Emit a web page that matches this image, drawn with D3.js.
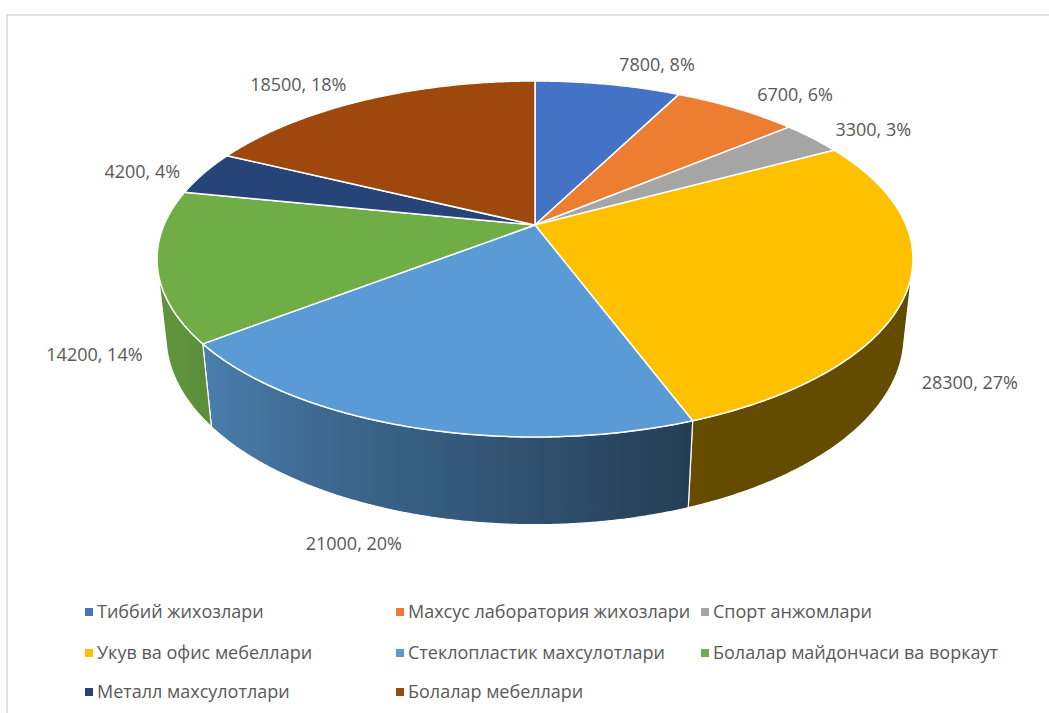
<!DOCTYPE html>
<html>
<head>
<meta charset="utf-8">
<script src="https://cdn.jsdelivr.net/npm/d3@7"></script>
<style>
  html, body { margin: 0; padding: 0; background: #ffffff; }
  svg { display: block; }
  text { font-family: "Open Sans", "Noto Sans", sans-serif; }
</style>
</head>
<body>
<svg id="chart" width="1049" height="713"></svg>
<script>
// ---- data ----
const categories = [
  "Тиббий жихозлари",
  "Махсус лаборатория жихозлари",
  "Спорт анжомлари",
  "Укув ва офис мебеллари",
  "Стеклопластик махсулотлари",
  "Болалар майдончаси ва воркаут",
  "Металл махсулотлари",
  "Болалар мебеллари"
];
const values = [7800, 6700, 3300, 28300, 21000, 14200, 4200, 18500];
const colors = ["#4472C4", "#ED7D31", "#A5A5A5", "#FFC000", "#5B9BD5", "#70AD47", "#264478", "#9E480E"];

// ---- geometry of the 3D pie ----
const W = 1049, H = 713;
const cx = 535, cy = 225;     // projected centre of the top face
const R = 371;                // disc radius
const thick = 88;             // disc thickness
const sinT = 0.4623, cosT = Math.sqrt(1 - sinT * sinT);
const focal = 1723;           // perspective distance

const svg = d3.select("#chart");
svg.append("rect").attr("width", W).attr("height", H).attr("fill", "#fff");
svg.append("rect")
  .attr("x", 7).attr("y", 15).attr("width", 1200).attr("height", 900)
  .attr("fill", "none").attr("stroke", "#d9d9d9").attr("stroke-width", 1.5);

const total = d3.sum(values);
const pie = d3.pie().sort(null).value(d => d)(values);   // angles in radians, 0 = 12 o'clock, clockwise

// project disc point (angle a in radians from the back, radius r, height y)
function proj(a, r, y) {
  const X = r * Math.sin(a);
  const Z = -r * Math.cos(a);
  const y0 = Z * sinT - y * cosT;
  const d = Z * cosT + y * sinT;
  const s = focal / (focal - d);
  return [cx + X * s, cy + y0 * s];
}

// visible side range (tangent from the camera)
const camZ = focal * cosT;
const alpha = Math.acos(R / camZ);
const visA = Math.PI - alpha, visB = Math.PI + alpha;

function shade(a) {
  const deg = a * 180 / Math.PI;
  const t = Math.max(0, Math.min(1, (deg - 158) / 80));
  return 0.39 + 0.46 * t;
}

const defs = svg.append("defs");
const gSide = svg.append("g");
const gTop = svg.append("g");
const step = Math.PI / 360;

function arcPts(a0, a1, r, y) {
  const pts = [];
  const n = Math.max(2, Math.ceil(Math.abs(a1 - a0) / step));
  for (let i = 0; i <= n; i++) pts.push(proj(a0 + (a1 - a0) * i / n, r, y));
  return pts;
}

pie.forEach((p, i) => {
  const a0 = Math.max(p.startAngle, visA), a1 = Math.min(p.endAngle, visB);
  if (a1 <= a0) return;
  const top = arcPts(a0, a1, R, 0);
  const bot = arcPts(a1, a0, R, -thick);
  const x1 = top[0][0], x2 = top[top.length - 1][0];
  const gid = "side" + i;
  const grad = defs.append("linearGradient").attr("id", gid)
    .attr("gradientUnits", "userSpaceOnUse")
    .attr("x1", x1).attr("y1", 0).attr("x2", x2).attr("y2", 0);
  const base = d3.rgb(colors[i]);
  const ns = 20;
  for (let k = 0; k <= ns; k++) {
    const a = a0 + (a1 - a0) * k / ns;
    const x = proj(a, R, 0)[0];
    const f = shade(a);
    grad.append("stop")
      .attr("offset", (x - x1) / (x2 - x1))
      .attr("stop-color", d3.rgb(base.r * f, base.g * f, base.b * f).formatHex());
  }
  gSide.append("path")
    .attr("d", d3.line()(top.concat(bot)) + "Z")
    .attr("fill", `url(#${gid})`)
    .attr("stroke", "#fff").attr("stroke-width", 1.2).attr("stroke-linejoin", "round");
});

pie.forEach((p, i) => {
  const pts = [proj(0, 0, 0)].concat(arcPts(p.startAngle, p.endAngle, R, 0));
  gTop.append("path")
    .attr("d", d3.line()(pts) + "Z")
    .attr("fill", colors[i])
    .attr("stroke", "#fff").attr("stroke-width", 1.5).attr("stroke-linejoin", "round");
});

// ---- data labels ----
const gLab = svg.append("g");
const gapX = 24, gapY = 14, lh = 24, yShift = 5;
const clamp = v => Math.max(-1, Math.min(1, v));
pie.forEach((p, i) => {
  const mid = (p.startAngle + p.endAngle) / 2;
  const front = mid > Math.PI / 2 && mid < Math.PI * 1.5;
  const yy = front ? -thick : 0;
  const rim = proj(mid, R, yy);
  const ctr = proj(0, 0, yy);
  let ux = rim[0] - ctr[0], uy = rim[1] - ctr[1];
  const L = Math.hypot(ux, uy); ux /= L; uy /= L;
  const txt = values[i] + ", " + Math.round(values[i] / total * 100) + "%";
  const t = gLab.append("text").text(txt)
    .attr("font-size", 18).attr("fill", "#595959")
    .attr("text-anchor", "middle").attr("dy", "0.35em");
  const w = t.node().getComputedTextLength();
  const px = rim[0] + ux * gapX, py = rim[1] + uy * gapY;
  t.attr("x", px + (w / 2) * clamp(ux * 2.5))
   .attr("y", py + (lh / 2) * clamp(uy * 2.5) + yShift);
});

// ---- legend ----
const colX = [85, 396, 701];
const rowY = [612, 653, 692];
const gLeg = svg.append("g");
categories.forEach((c, i) => {
  const col = i % 3, row = Math.floor(i / 3);
  const g = gLeg.append("g").attr("transform", `translate(${colX[col]},${rowY[row]})`);
  g.append("rect").attr("x", 0).attr("y", -4).attr("width", 8).attr("height", 8).attr("fill", colors[i]);
  g.append("text").attr("x", 12).attr("y", 0).attr("dy", "0.35em")
    .attr("font-size", 18).attr("fill", "#595959").text(c);
});
</script>
</body>
</html>
